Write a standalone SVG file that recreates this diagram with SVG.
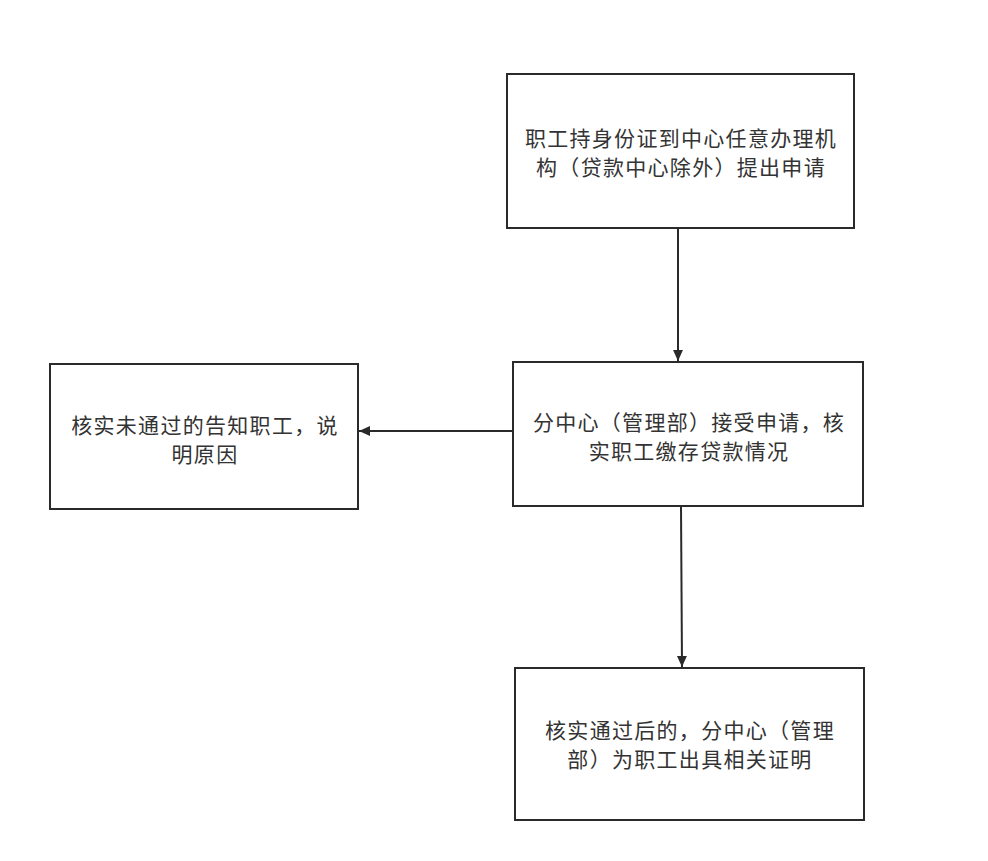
<svg xmlns="http://www.w3.org/2000/svg" width="988" height="861" viewBox="0 0 988 861">
<defs>
<style>
.box{fill:#fff;stroke:#2a2a2a;stroke-width:2}
.t{font-family:"Noto Sans CJK SC","Noto Sans",sans-serif;font-size:21px;letter-spacing:1.3px;fill:#333;text-anchor:middle;dominant-baseline:central}
.c{stroke:#2a2a2a;stroke-width:2;fill:none}
</style>
<marker id="ah" viewBox="0 0 10 10" refX="10" refY="5" markerWidth="11" markerHeight="11" markerUnits="userSpaceOnUse" orient="auto">
<path d="M0,0.5 L10,5 L0,9.5 Z" fill="#2a2a2a"/>
</marker>
</defs>
<rect width="988" height="861" fill="#fff"/>
<g id="connectors">
<line class="c" x1="678" y1="228" x2="678" y2="361" marker-end="url(#ah)"/>
<line class="c" x1="513" y1="431" x2="359" y2="431" marker-end="url(#ah)"/>
<line class="c" x1="681" y1="506" x2="682" y2="667" marker-end="url(#ah)"/>
</g>
<g id="n1">
<rect class="box" x="507" y="74" width="347" height="154"/>
<text class="t" x="681" y="137">职工持身份证到中心任意办理机</text>
<text class="t" x="681" y="166">构（贷款中心除外）提出申请</text>
</g>
<g id="n2">
<rect class="box" x="513" y="362" width="350" height="144"/>
<text class="t" x="689" y="421">分中心（管理部）接受申请，核</text>
<text class="t" x="689" y="450">实职工缴存贷款情况</text>
</g>
<g id="n3">
<rect class="box" x="50" y="364" width="308" height="145"/>
<text class="t" x="205" y="424">核实未通过的告知职工，说</text>
<text class="t" x="205" y="453">明原因</text>
</g>
<g id="n4">
<rect class="box" x="515" y="668" width="349" height="152"/>
<text class="t" x="690" y="729">核实通过后的，分中心（管理</text>
<text class="t" x="690" y="758">部）为职工出具相关证明</text>
</g>
</svg>
